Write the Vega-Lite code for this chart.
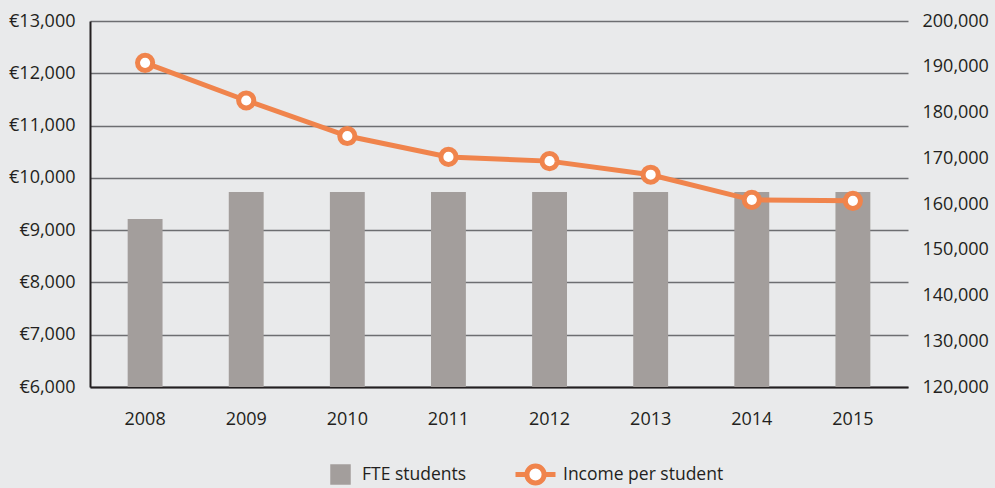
{
  "$schema": "https://vega.github.io/schema/vega-lite/v6.json",
  "autosize": {"type": "none"},
  "width": 818,
  "height": 366,
  "padding": {"left": 90, "top": 21, "right": 87, "bottom": 101},
  "background": "#e9eaeb",
  "config": {
    "view": {"stroke": null},
    "font": "Open Sans",
    "axis": {"labelFont": "Open Sans", "labelFontSize": 18, "labelColor": "#231f20", "titleFont": "Open Sans", "labelOverlap": false},
    "legend": {"labelFont": "Open Sans", "labelFontSize": 17.5, "labelColor": "#231f20", "labelLimit": 400}
  },
  "data": {
    "values": [
      {"year": "2008", "fte": 156700, "income": 12200},
      {"year": "2009", "fte": 162600, "income": 11480},
      {"year": "2010", "fte": 162600, "income": 10800},
      {"year": "2011", "fte": 162600, "income": 10400},
      {"year": "2012", "fte": 162600, "income": 10320},
      {"year": "2013", "fte": 162600, "income": 10060},
      {"year": "2014", "fte": 162600, "income": 9580},
      {"year": "2015", "fte": 162600, "income": 9560}
    ]
  },
  "encoding": {
    "x": {
      "field": "year",
      "type": "ordinal",
      "scale": {"paddingInner": 0, "paddingOuter": 0.045},
      "axis": {"title": null, "labelAngle": 0, "ticks": false, "domain": true, "domainColor": "#231f20", "domainWidth": 2, "labelPadding": 23, "grid": false}
    }
  },
  "layer": [
    {
      "mark": {"type": "bar", "width": {"band": 0.345}},
      "encoding": {
        "y": {
          "field": "fte",
          "type": "quantitative",
          "scale": {"domain": [120000, 200000], "zero": false, "nice": false},
          "axis": {"orient": "right", "title": null, "grid": false, "domain": false, "ticks": false, "values": [120000, 130000, 140000, 150000, 160000, 170000, 180000, 190000, 200000], "labelExpr": "format(datum.value, ',')", "labelPadding": 14, "labelOverlap": false}
        },
        "y2": {"datum": 120000},
        "fill": {
          "datum": "FTE students",
          "scale": {"range": ["#a39e9c"]},
          "legend": {"title": null, "orient": "none", "legendX": 240, "legendY": 443, "symbolType": "square", "symbolSize": 420, "symbolStrokeWidth": 0, "labelOffset": 11}
        }
      }
    },
    {
      "encoding": {
        "y": {
          "field": "income",
          "type": "quantitative",
          "scale": {"domain": [6000, 13000], "zero": false, "nice": false},
          "axis": {"orient": "left", "title": null, "grid": true, "gridColor": "#6d6e71", "gridWidth": 1.5, "domain": true, "domainColor": "#231f20", "domainWidth": 2, "ticks": false, "values": [6000, 7000, 8000, 9000, 10000, 11000, 12000, 13000], "labelExpr": "'€' + format(datum.value, ',')", "labelPadding": 15, "labelOverlap": false}
        },
        "stroke": {
          "datum": "Income per student",
          "scale": {"range": ["#f0844c"]},
          "legend": {"title": null, "orient": "none", "legendX": 423, "legendY": 431, "symbolType": "M-1,0L-0.43,0M0.43,0L1,0M-0.43,0A0.43,0.43 0 1,1 0.43,0A0.43,0.43 0 1,1 -0.43,0Z", "symbolSize": 1600, "symbolStrokeWidth": 5, "symbolFillColor": "white", "labelOffset": 5}
        }
      },
      "layer": [
        {"mark": {"type": "line", "strokeWidth": 5}},
        {"mark": {"type": "point", "filled": false, "fill": "white", "fillOpacity": 1, "opacity": 1, "strokeWidth": 5, "size": 230, "shape": "circle"}}
      ]
    }
  ],
  "resolve": {"scale": {"y": "independent", "fill": "independent", "stroke": "independent"}}
}
